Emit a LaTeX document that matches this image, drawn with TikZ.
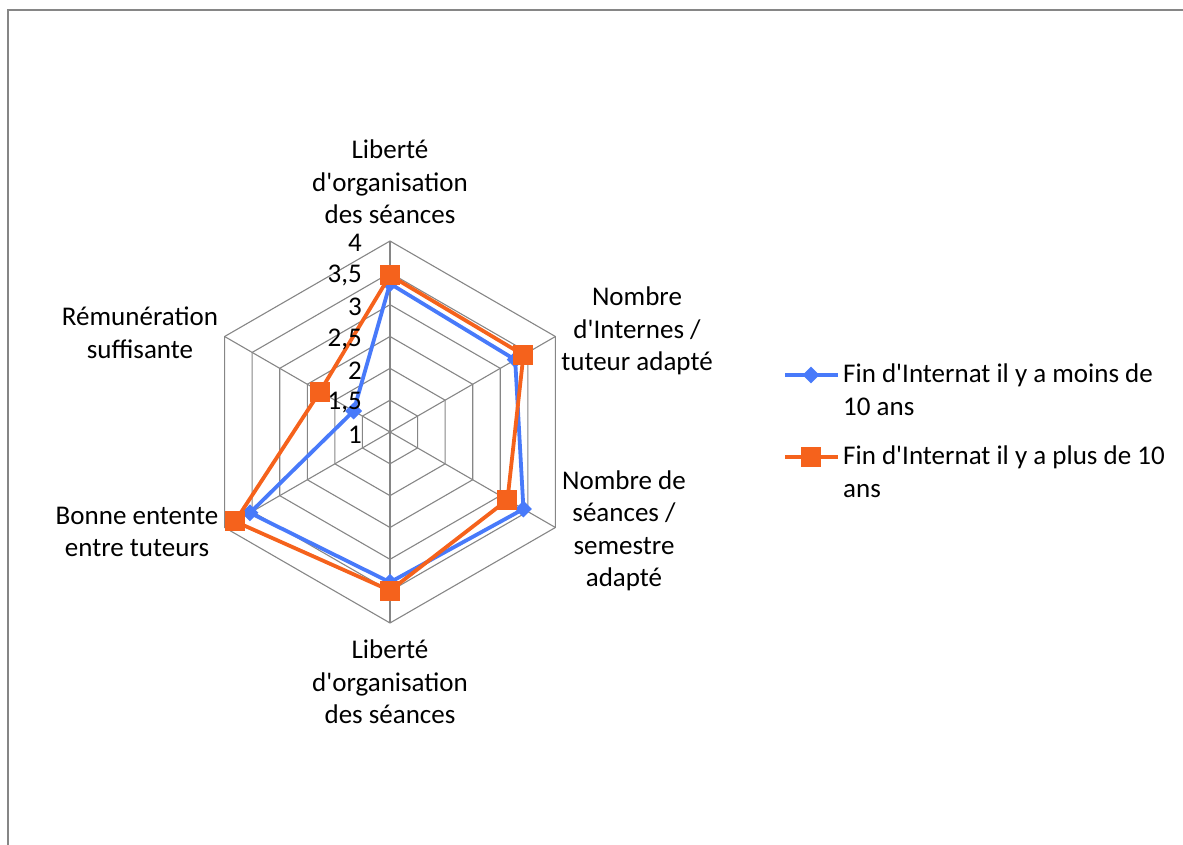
\documentclass[tikz,border=0pt]{standalone}
\usepackage{fontspec}
\newfontfamily\chartfont{Carlito}
\usetikzlibrary{shapes.geometric}
\definecolor{serblue}{RGB}{72,122,250}
\definecolor{serorange}{RGB}{245,98,28}
\definecolor{gridgray}{RGB}{134,134,134}
\begin{document}
\begin{tikzpicture}[x=1pt,y=-1pt,
  lbl/.style={align=center,inner sep=0pt,font=\chartfont\fontsize{27}{32.5}\selectfont},
  ticklbl/.style={anchor=east,inner sep=0pt,font=\chartfont\fontsize{27}{32.5}\selectfont},
  legtext/.style={align=left,anchor=west,inner sep=0pt,font=\chartfont\fontsize{27}{33}\selectfont},
  gridline/.style={draw=gridgray,line width=1.1pt},
  bseries/.style={draw=serblue,line width=3.8pt,line join=round},
  oseries/.style={draw=serorange,line width=3.8pt,line join=round},
  bmark/.style={diamond,fill=serblue,inner sep=0pt,minimum size=17pt},
  omark/.style={rectangle,fill=serorange,inner sep=0pt,minimum size=20pt}]
\useasboundingbox (0,0) rectangle (1183,845);
\draw[draw=gridgray,line width=1.5pt] (8,10) rectangle (1200,870);
\begin{scope}[shift={(390,432)},yscale=-1]
  \coordinate (c) at (0,0);
  \foreach \k in {1,...,6}{
    \draw[gridline] (90:{\k*31.83}) -- (30:{\k*31.83}) -- (-30:{\k*31.83}) -- (-90:{\k*31.83}) -- (-150:{\k*31.83}) -- (150:{\k*31.83}) -- cycle;
  }
  \foreach \a/\n in {90/1,30/2,-30/3,-90/4,-150/5,150/6}{
    \coordinate (ax\n) at (\a:191);
    \draw[gridline] (c) -- (ax\n);
  }
  % blue series
  \coordinate (b1) at (90:{(3.33-1)*63.67});
  \coordinate (b2) at (30:{(3.27-1)*63.67});
  \coordinate (b3) at (-30:{(3.42-1)*63.67});
  \coordinate (b4) at (-90:{(3.36-1)*63.67});
  \coordinate (b5) at (-150:{(3.54-1)*63.67});
  \coordinate (b6) at (150:{(1.66-1)*63.67});
  % orange series
  \coordinate (o1) at (90:{(3.46-1)*63.67});
  \coordinate (o2) at (30:{(3.42-1)*63.67});
  \coordinate (o3) at (-30:{(3.13-1)*63.67});
  \coordinate (o4) at (-90:{(3.49-1)*63.67});
  \coordinate (o5) at (-150:{(3.81-1)*63.67});
  \coordinate (o6) at (150:{(2.27-1)*63.67});
  \draw[bseries] (b1) -- (b2) -- (b3) -- (b4) -- (b5) -- (b6) -- cycle;
  \foreach \i in {1,...,6}{ \node[bmark] (bm\i) at (b\i) {}; }
  \draw[oseries] (o1) -- (o2) -- (o3) -- (o4) -- (o5) -- (o6) -- cycle;
  \foreach \i in {1,...,6}{ \node[omark] (om\i) at (o\i) {}; }
\end{scope}
% tick labels
\node[ticklbl] (t4) at (362,243) {4};
\node[ticklbl] (t35) at (362,275) {3,5};
\node[ticklbl] (t3) at (362,307) {3};
\node[ticklbl] (t25) at (362,339) {2,5};
\node[ticklbl] (t2) at (362,371) {2};
\node[ticklbl] (t15) at (362,403) {1,5};
\node[ticklbl] (t1) at (362,435) {1};
% axis labels
\node[lbl] (l1) at (390,182) {Liberté\\d'organisation\\des séances};
\node[lbl] (l2) at (637,331) {Nombre\\d'Internes /\\tuteur adapté};
\node[lbl] (l3) at (624,531) {Nombre de\\séances /\\semestre\\adapté};
\node[lbl] (l4) at (390,682) {Liberté\\d'organisation\\des séances};
\node[lbl] (l5) at (137,532) {Bonne entente\\entre tuteurs};
\node[lbl] (l6) at (140,333) {Rémunération\\suffisante};
% legend
\coordinate (lb1) at (785,375); \coordinate (lb2) at (838,375);
\draw[bseries] (lb1) -- (lb2);
\node[bmark] (lbm) at (811,375) {};
\node[legtext] (lbt) at (843,390) {Fin d'Internat il y a moins de\\10 ans};
\coordinate (lo1) at (785,457); \coordinate (lo2) at (838,457);
\draw[oseries] (lo1) -- (lo2);
\node[omark] (lom) at (811,457) {};
\node[legtext] (lot) at (843,472) {Fin d'Internat il y a plus de 10\\ans};
\end{tikzpicture}
\end{document}
